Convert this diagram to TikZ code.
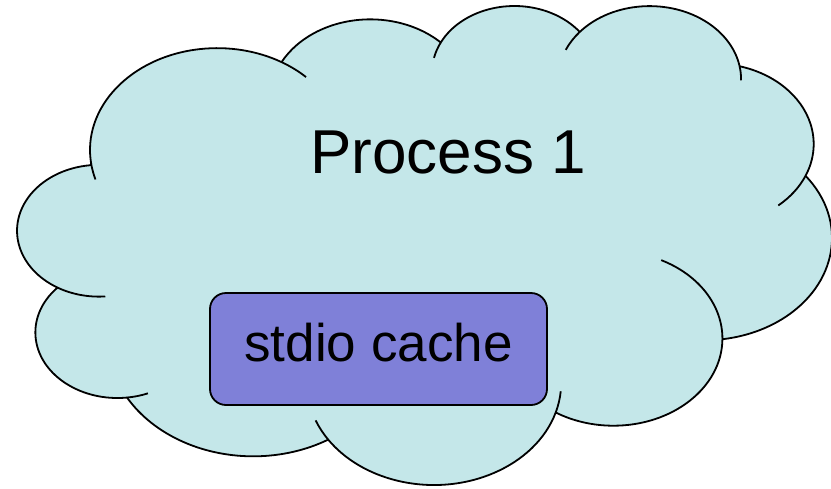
\documentclass[tikz,border=0pt]{standalone}
\usepackage{fontspec}
\setmainfont{Liberation Sans}
\usepackage{tikz}

\definecolor{cloudfill}{RGB}{196,231,233}
\definecolor{cachefill}{RGB}{127,128,216}

\begin{document}
\begin{tikzpicture}[x=1pt, y=-1pt,
    cloudline/.style={line width=1.8pt, line join=round},
    cachebox/.style={draw, line width=1.8pt, fill=cachefill, rounded corners=16pt,
      minimum width=337pt, minimum height=112pt, inner sep=0pt,
      text height=44pt, text depth=20pt, font=\fontsize{53}{60}\selectfont},
    title/.style={font=\fontsize{62}{70}\selectfont, inner sep=0pt, anchor=base}]

  \useasboundingbox (0,0) rectangle (831,488);

  % cloud: eleven elliptic lobes, cusps k1..k11
  \begin{scope}[shift={(17.7,4.45)}, x=1.8841pt, y=-1.1084pt]
    \filldraw[cloudline, fill=cloudfill] (39.00,143.70) coordinate (k1)
      arc[start angle=172.25, end angle=300.36, x radius=67.53, y radius=91.90] coordinate (k2)
      arc[start angle=-152.02, end angle=-45.45, x radius=53.33, y radius=72.67] coordinate (k3)
      arc[start angle=-153.49, end angle=-37.33, x radius=43.65, y radius=59.45] coordinate (k4)
      arc[start angle=-139.72, end angle=-10.21, x radius=48.57, y radius=65.95] coordinate (k5)
      arc[start angle=-74.77, end angle=23.21, x radius=53.33, y radius=72.73] coordinate (k6)
      arc[start angle=-37.53, end angle=81.86, x radius=67.75, y radius=92.20] coordinate (k7)
      arc[start angle=0.46, end angle=121.98, x radius=57.85, y radius=78.67] coordinate (k8)
      arc[start angle=16.85, end angle=146.24, x radius=67.52, y radius=92.15] coordinate (k9)
      arc[start angle=58.99, end angle=150.19, x radius=77.20, y radius=105.43] coordinate (k10)
      arc[start angle=83.31, end angle=223.11, x radius=43.60, y radius=59.18] coordinate (k11)
      arc[start angle=120.36, end angle=264.11, x radius=43.45, y radius=59.45]
      -- cycle;

    % inner arcs running on from the cusps
    \draw[cloudline] (k1) arc[start angle=172.25, end angle=163.19, x radius=67.53, y radius=91.90];
    \draw[cloudline] (k2) arc[start angle=300.36, end angle=314.27, x radius=67.53, y radius=91.90];
    \draw[cloudline] (k3) arc[start angle=-153.49, end angle=-167.72, x radius=43.65, y radius=59.45];
    \draw[cloudline] (k4) arc[start angle=-139.72, end angle=-156.31, x radius=48.57, y radius=65.95];
    \draw[cloudline] (k5) arc[start angle=-10.21, end angle=0.82, x radius=48.57, y radius=65.95];
    \draw[cloudline] (k6) arc[start angle=23.21, end angle=49.65, x radius=53.33, y radius=72.73];
    \draw[cloudline] (k7) arc[start angle=0.46, end angle=-64.00, x radius=57.85, y radius=78.67];
    \draw[cloudline] (k8) arc[start angle=16.85, end angle=4.74, x radius=67.52, y radius=92.15];
    \draw[cloudline] (k9) arc[start angle=146.24, end angle=158.47, x radius=67.52, y radius=92.15];
    \draw[cloudline] (k10) arc[start angle=83.31, end angle=68.24, x radius=43.60, y radius=59.18];
    \draw[cloudline] (k11) arc[start angle=120.36, end angle=85.54, x radius=43.45, y radius=59.45];
  \end{scope}

  \node[title] (proc) at (448,173) {Process 1};
  \node[cachebox] (cache) at (378.5,349) {stdio cache};

\end{tikzpicture}
\end{document}
